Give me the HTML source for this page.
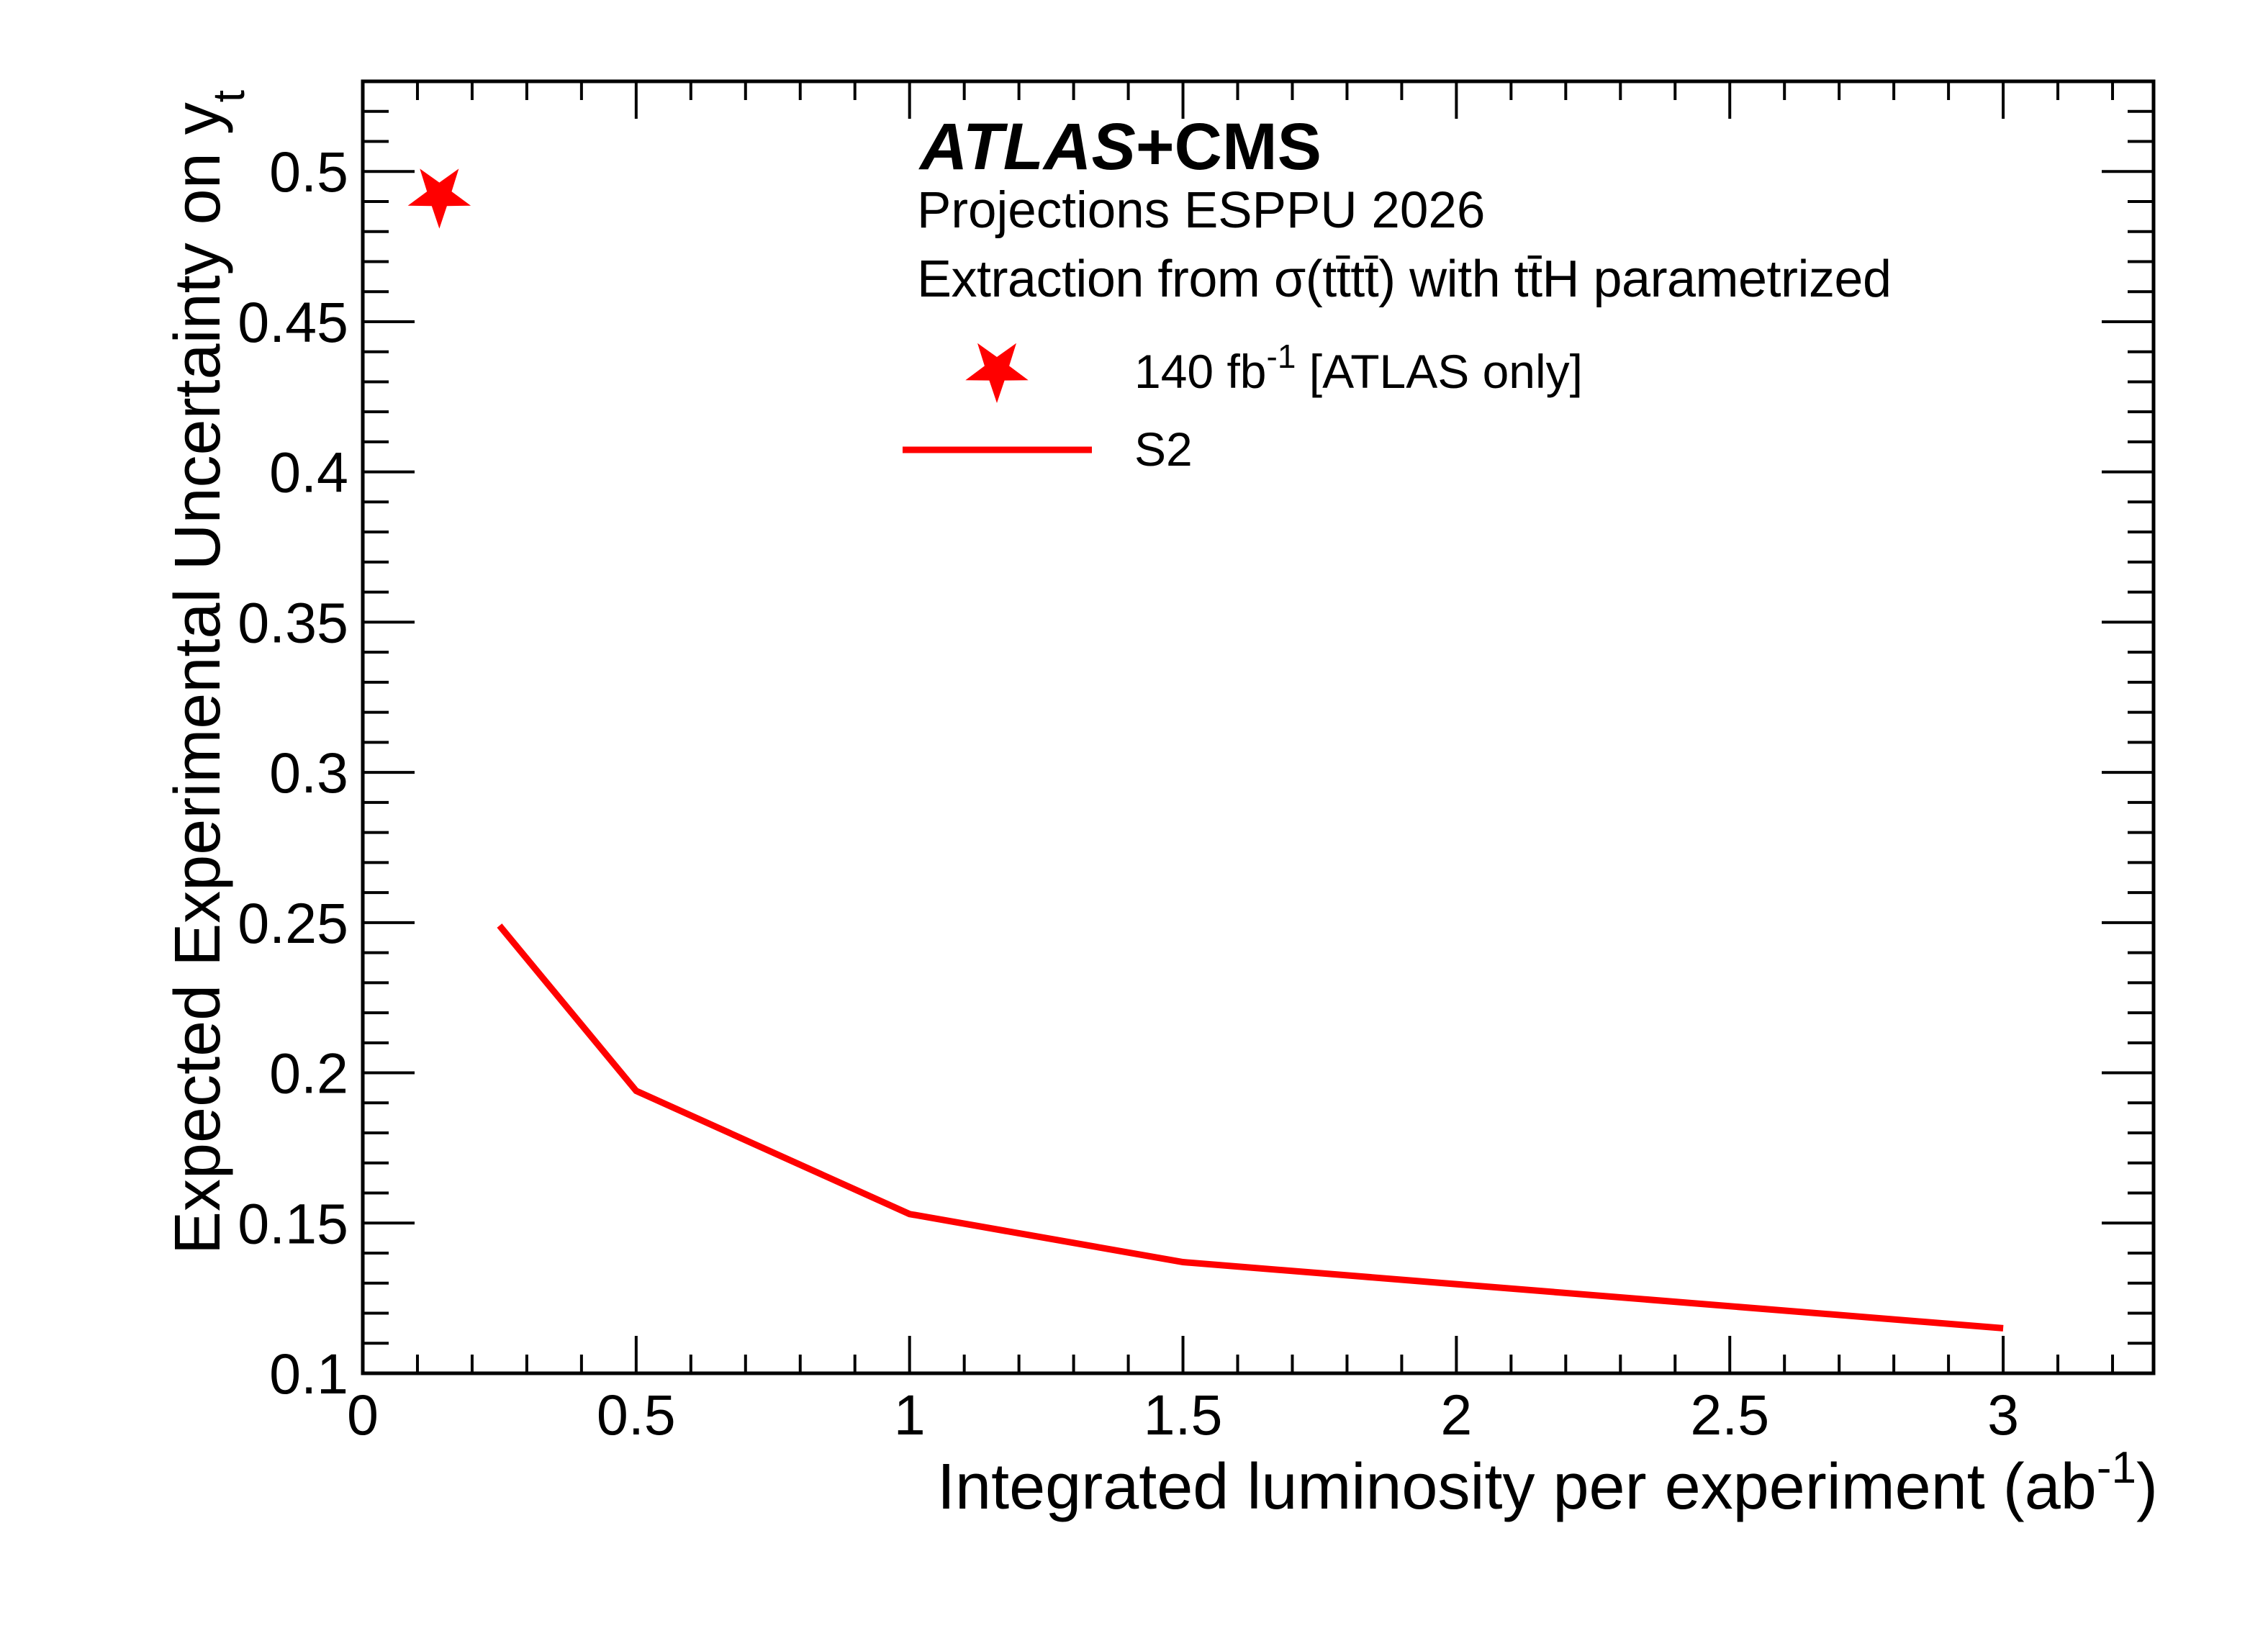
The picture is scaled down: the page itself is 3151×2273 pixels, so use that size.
<!DOCTYPE html>
<html><head><meta charset="utf-8"><style>
html,body{margin:0;padding:0;background:#fff;}
svg{display:block;font-family:"Liberation Sans",Arial,sans-serif;}
</style></head><body>
<svg id="chart" width="3151" height="2273" viewBox="0 0 3151 2273" xmlns="http://www.w3.org/2000/svg">
<rect width="3151" height="2273" fill="#fff"/>
<g id="ticks"></g>
<g id="ylabels" font-size="79" text-anchor="end"></g>
<g id="xlabels" font-size="79" text-anchor="middle"></g>
<g id="series"></g>
<rect x="504" y="113" width="2488" height="1795" fill="none" stroke="#000" stroke-width="5"/>
<text x="2998" y="2096" font-size="90" text-anchor="end">Integrated luminosity per experiment (ab<tspan dy="-36" font-size="62">-1</tspan><tspan dy="36">)</tspan></text>
<text transform="translate(305,125) rotate(-90)" font-size="90" text-anchor="end">Expected Experimental Uncertainty on y<tspan dy="34" font-size="62">t</tspan></text>
<text x="1278" y="235" font-size="92" font-weight="bold"><tspan font-style="italic">ATLAS</tspan>+CMS</text>
<text x="1274" y="316" font-size="71">Projections ESPPU 2026</text>
<text x="1274" y="412" font-size="72" textLength="1354">Extraction from σ(tt̄tt̄) with tt̄H parametrized</text>
<g>
<polygon id="legstar" fill="#ff0000"/>
<text x="1576" y="539" font-size="66">140 fb<tspan dy="-28" font-size="46">-1</tspan><tspan dy="28"> [ATLAS only]</tspan></text>
<line x1="1254" y1="625" x2="1517" y2="625" stroke="#ff0000" stroke-width="9"/>
<text x="1576" y="647" font-size="66">S2</text>
</g>
</svg>
<script>
const lineX = [0.25, 0.5, 1, 1.5, 3];
const lineY = [0.249, 0.194, 0.153, 0.137, 0.115];
const starX = [0.14];
const starY = [0.492];
const xTickLabels = ["0","0.5","1","1.5","2","2.5","3"];
const yTickLabels = ["0.1","0.15","0.2","0.25","0.3","0.35","0.4","0.45","0.5"];

const X0=504, X1=2992, Y0=1908, Y1=113;
const xmin=0, xmax=3.275, ymin=0.1, ymax=0.53;
function sx(v){return X0+(v-xmin)/(xmax-xmin)*(X1-X0);}
function sy(v){return Y0-(v-ymin)/(ymax-ymin)*(Y0-Y1);}
const NS="http://www.w3.org/2000/svg";
function mk(tag,attrs,parent){const e=document.createElementNS(NS,tag);for(const k in attrs)e.setAttribute(k,attrs[k]);parent.appendChild(e);return e;}
const ticks=document.getElementById('ticks');
for(let i=1;i*0.1<xmax;i++){
  const v=i*0.1, major=(i%5===0), L=major?52:26, x=sx(v);
  const t1=mk('line',{x1:x,y1:Y0,x2:x,y2:Y0-L,stroke:'#000','stroke-width':4},ticks);
  
  
  const t2=mk('line',{x1:x,y1:Y1,x2:x,y2:Y1+L,stroke:'#000','stroke-width':4},ticks);
  
  
}
for(let i=1;0.1+i*0.01<ymax;i++){
  const v=0.1+i*0.01, major=(i%5===0), L=major?72:36, y=sy(v);
  const t1=mk('line',{x1:X0,y1:y,x2:X0+L,y2:y,stroke:'#000','stroke-width':4},ticks);
  
  
  const t2=mk('line',{x1:X1,y1:y,x2:X1-L,y2:y,stroke:'#000','stroke-width':4},ticks);
  
  
}
const xl=document.getElementById('xlabels');
xTickLabels.forEach(s=>{
  const t=mk('text',{x:sx(parseFloat(s)),y:1993},xl);t.textContent=s;
  
  
});
const yl=document.getElementById('ylabels');
yTickLabels.forEach(s=>{
  const t=mk('text',{x:484,y:sy(parseFloat(s))+28},yl);t.textContent=s;
  
  
});
const ser=document.getElementById('series');
const pl=mk('polyline',{points:lineX.map((v,i)=>sx(v)+','+sy(lineY[i])).join(' '),fill:'none',stroke:'#ff0000','stroke-width':9,'stroke-linejoin':'miter'},ser);


function starDown(cx,cy,R,r){const p=[];for(let k=0;k<10;k++){const a=Math.PI/2+k*Math.PI/5;const rr=k%2?r:R;p.push((cx+rr*Math.cos(a)).toFixed(1)+','+(cy+rr*Math.sin(a)).toFixed(1));}return p.join(' ');}
starX.forEach((v,i)=>{
  const s=mk('polygon',{points:starDown(sx(v),sy(starY[i]),46,18),fill:'#ff0000'},ser);
  
  
});
document.getElementById('legstar').setAttribute('points',starDown(1385,514,46,18));
</script>
</body></html>
